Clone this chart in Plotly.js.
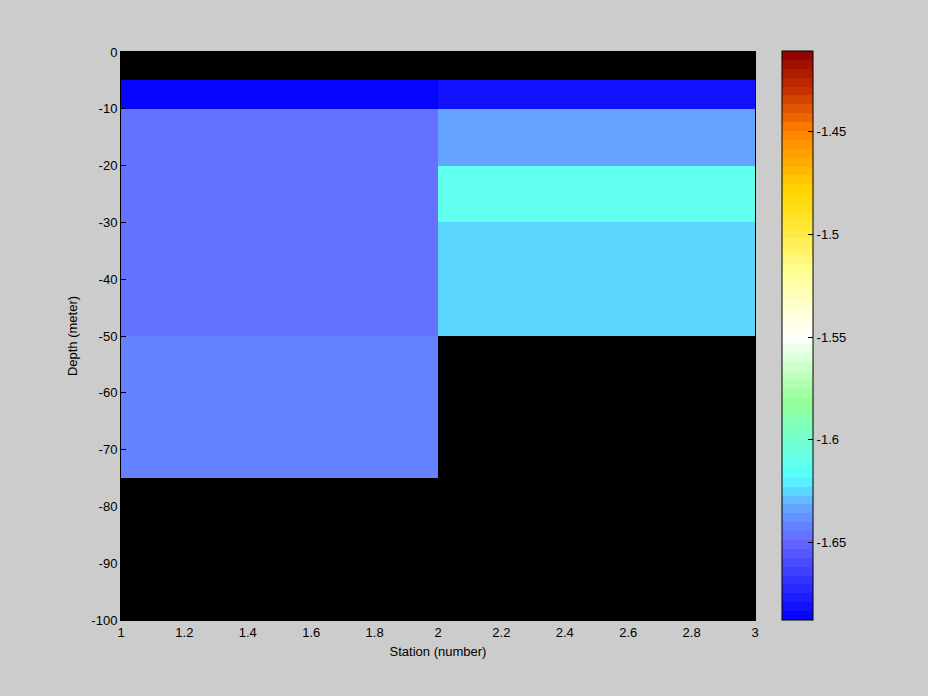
<!DOCTYPE html>
<html><head><meta charset="utf-8">
<script src="https://cdn.plot.ly/plotly-3.0.1.min.js"></script>
<style>html,body{margin:0;padding:0;background:#cccccc;}</style>
</head><body>
<div id="chart" style="width:928px;height:696px;"></div>
<script>
// Station edges (x) and depth edges (y)
var stationEdges = [1, 2, 3];
var depthEdges = [0, -5, -10, -20, -30, -50, -75, -100];
// Cell values per station column, top to bottom (null = no data)
var station1 = [null, -1.686, -1.647, -1.647, -1.647, -1.641, null];
var station2 = [null, -1.679, -1.635, -1.612, -1.624, null, null];
var xTicks = [1, 1.2, 1.4, 1.6, 1.8, 2, 2.2, 2.4, 2.6, 2.8, 3];
var yTicks = [0, -10, -20, -30, -40, -50, -60, -70, -80, -90, -100];
var cbTicks = [-1.65, -1.6, -1.55, -1.5, -1.45];
var cmin = -1.6875, cmax = -1.4106;

var z = station1.map(function(v, i){ return [v, station2[i]]; });

// colormap anchors (style)
var anchors = [
  [0, [0,0,255]], [0.135,[100,100,255]], [0.20,[100,168,255]], [0.251,[85,255,255]],
  [0.388,[150,255,150]], [0.497,[255,255,255]], [0.60,[255,255,160]], [0.677,[255,235,70]],
  [0.75,[255,215,0]], [0.858,[255,130,0]], [0.93,[200,50,0]], [1,[140,0,0]]
];
function colorAt(t){
  for (var k=1;k<anchors.length;k++){
    if (t<=anchors[k][0]){
      var a=anchors[k-1], b=anchors[k], f=(t-a[0])/(b[0]-a[0]);
      var c=a[1].map(function(v,j){return Math.round(v+(b[1][j]-v)*f);});
      return 'rgb('+c.join(',')+')';
    }
  }
  return 'rgb(140,0,0)';
}
var N=64, cs=[];
for (var i=0;i<N;i++){
  var col=colorAt((i+0.5)/N);
  cs.push([i/N,col]); cs.push([(i+1)/N,col]);
}

var font = {family:'Liberation Sans, Arial, sans-serif', size:13, color:'#000'};
var cbX = 1.0426;
var trace = {
  type:'heatmap', x:stationEdges, y:depthEdges, z:z,
  zmin:cmin, zmax:cmax, colorscale:cs, hoverongaps:false,
  colorbar:{x:cbX, xanchor:'left', y:0.5015, yanchor:'middle', len:1.002, lenmode:'fraction',
    thickness:31, thicknessmode:'pixels', outlinewidth:1, outlinecolor:'#000',
    tickvals:cbTicks, ticktext:cbTicks.map(String), ticks:'inside', ticklen:5, tickcolor:'#000',
    tickfont:font, xpad:0, ypad:0, bgcolor:'rgba(0,0,0,0)'}
};
var layout = {
  width:928, height:696, paper_bgcolor:'#cccccc', plot_bgcolor:'#000000',
  margin:{l:121, r:173, t:52, b:76},
  font:font,
  xaxis:{range:[1,3], tickvals:xTicks, ticktext:xTicks.map(String), ticks:'inside', ticklen:5,
    tickcolor:'#000', showgrid:false, zeroline:false, showline:true, linecolor:'#000', mirror:true,
    title:{text:'Station (number)', font:font, standoff:8}, tickfont:font},
  yaxis:{range:[-100,0], tickvals:yTicks, ticktext:yTicks.map(String), ticks:'inside', ticklen:5,
    tickcolor:'#000', showgrid:false, zeroline:false, showline:true, linecolor:'#000', mirror:true,
    title:{text:'Depth (meter)', font:font, standoff:10}, tickfont:font}
};
Plotly.newPlot('chart',[trace],layout,{displayModeBar:false, staticPlot:true});
</script>
</body></html>
